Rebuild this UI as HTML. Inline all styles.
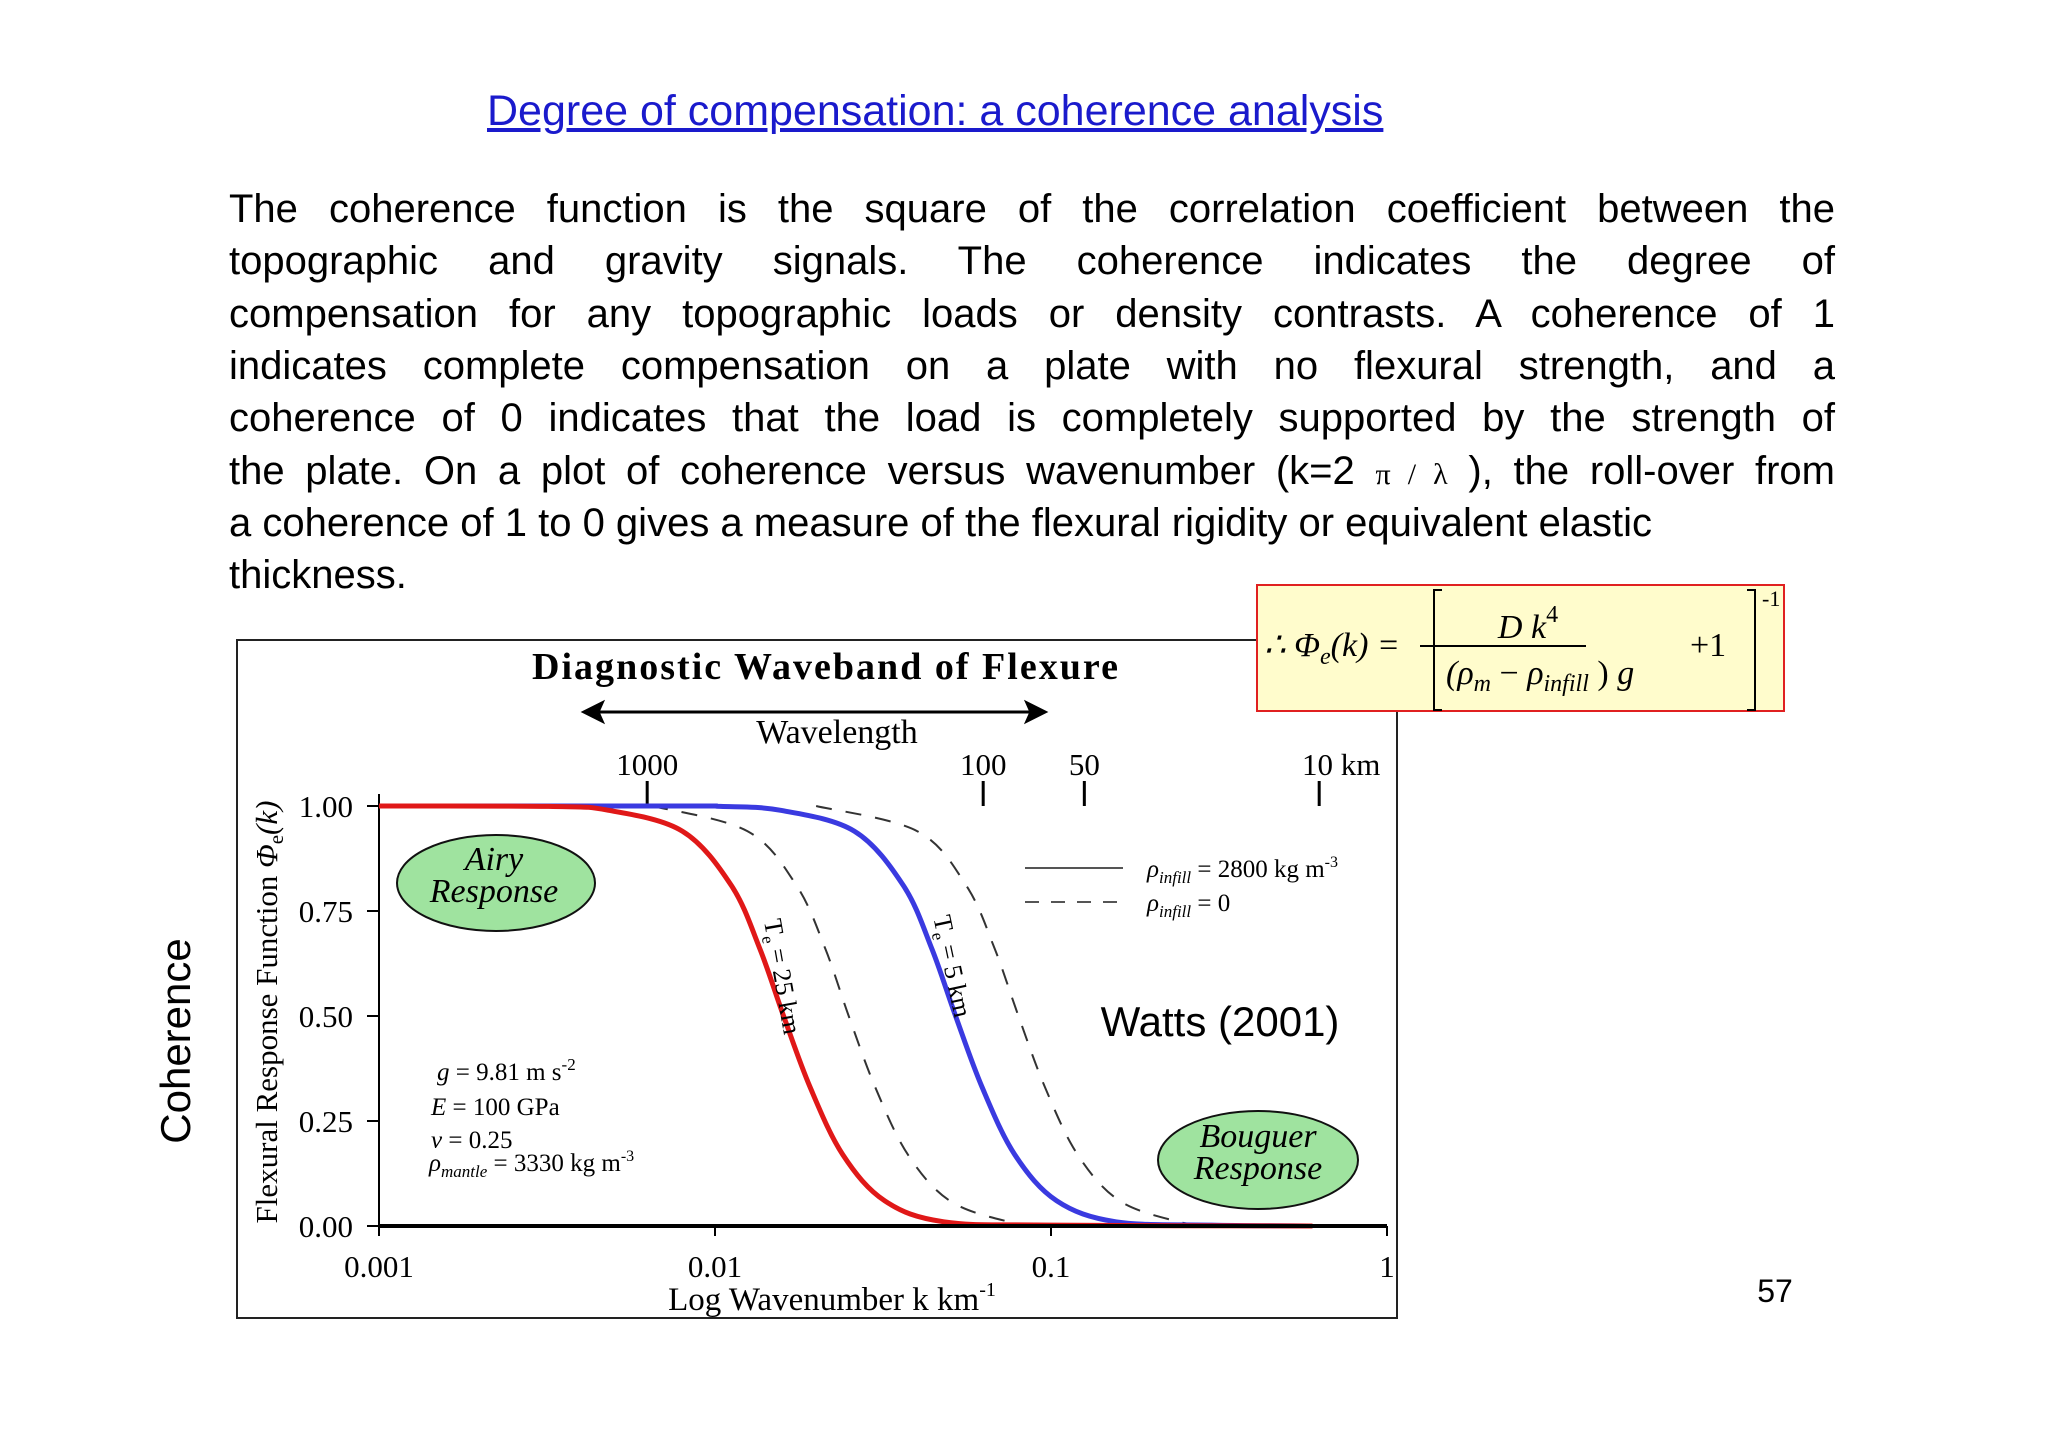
<!DOCTYPE html>
<html><head><meta charset="utf-8">
<style>
body{margin:0;width:2048px;height:1448px;background:#fff;position:relative;overflow:hidden;font-family:"Liberation Sans",sans-serif;}
.ln{position:absolute;left:229px;width:1606px;font-size:40px;height:52px;line-height:52px;white-space:nowrap;color:#000}
.j{text-align:justify;text-align-last:justify}
</style></head><body>
<div style="position:absolute;left:487px;top:87px;font-size:43px;color:#1a1acc;text-decoration:underline;white-space:nowrap">Degree of compensation: a coherence analysis</div>
<div>
<div class="ln j" style="top:183px">The coherence function is the square of the correlation coefficient between the</div>
<div class="ln j" style="top:235px">topographic and gravity signals. The coherence indicates the degree of</div>
<div class="ln j" style="top:288px">compensation for any topographic loads or density contrasts. A coherence of 1</div>
<div class="ln j" style="top:340px">indicates complete compensation on a plate with no flexural strength, and a</div>
<div class="ln j" style="top:392px">coherence of 0 indicates that the load is completely supported by the strength of</div>
<div class="ln j" style="top:445px">the plate. On a plot of coherence versus wavenumber (k=2 <span style="font-family:'Liberation Serif',serif;font-size:30px">π / λ</span> ), the roll-over from</div>
<div class="ln" style="top:497px">a coherence of 1 to 0 gives a measure of the flexural rigidity or equivalent elastic</div>
<div class="ln" style="top:549px">thickness.</div>
</div>
<svg width="2048" height="1448" style="position:absolute;left:0;top:0" xmlns="http://www.w3.org/2000/svg">
<rect x="237" y="640" width="1160" height="678" fill="#fff" stroke="#222" stroke-width="2"/>
<text transform="translate(190,1041) rotate(-90)" text-anchor="middle" font-family="Liberation Sans" font-size="42">Coherence</text>
<text x="1775" y="1302" text-anchor="middle" font-family="Liberation Sans" font-size="32">57</text>
<g font-family="Liberation Serif, serif">
<text x="825" y="679" text-anchor="middle" font-size="38" font-weight="bold" textLength="586">Diagnostic Waveband of Flexure</text>
<g stroke="#000" stroke-width="3">
<line x1="592" y1="712" x2="1037" y2="712"/>
<polygon points="584,712 602,703 598,712 602,721" fill="#000"/>
<polygon points="1045,712 1027,703 1031,712 1027,721" fill="#000"/>
</g>
<text x="837" y="743" text-anchor="middle" font-size="34">Wavelength</text>
<g id="topticks"></g>
<g id="plot"></g>
<text transform="translate(277,1012) rotate(-90)" text-anchor="middle" font-size="31">Flexural Response Function <tspan font-style="italic">Φ</tspan><tspan font-size="21" dy="6">e</tspan><tspan dy="-6" font-style="italic">(k)</tspan></text>
<text x="832" y="1310" text-anchor="middle" font-size="33">Log Wavenumber k km<tspan font-size="20" dy="-14">-1</tspan></text>
<ellipse cx="496" cy="883" rx="99" ry="48" fill="#9fe39f" stroke="#111" stroke-width="2"/>
<text x="494" y="870" text-anchor="middle" font-size="34" font-style="italic">Airy</text>
<text x="494" y="902" text-anchor="middle" font-size="34" font-style="italic">Response</text>
<ellipse cx="1258" cy="1160" rx="100" ry="49" fill="#9fe39f" stroke="#111" stroke-width="2"/>
<text x="1258" y="1147" text-anchor="middle" font-size="34" font-style="italic">Bouguer</text>
<text x="1258" y="1179" text-anchor="middle" font-size="34" font-style="italic">Response</text>
<g>
<line x1="1025" y1="868" x2="1123" y2="868" stroke="#555" stroke-width="2"/>
<line x1="1025" y1="902" x2="1123" y2="902" stroke="#555" stroke-width="2" stroke-dasharray="14,12"/>
<text x="1147" y="877" font-size="25"><tspan font-style="italic">ρ</tspan><tspan font-size="17" dy="6" font-style="italic">infill</tspan><tspan dy="-6"> = 2800 kg m</tspan><tspan font-size="16" dy="-10">-3</tspan></text>
<text x="1147" y="911" font-size="25"><tspan font-style="italic">ρ</tspan><tspan font-size="17" dy="6" font-style="italic">infill</tspan><tspan dy="-6"> = 0</tspan></text>
</g>
<g font-size="25">
<text x="437" y="1080"><tspan font-style="italic">g</tspan> = 9.81 m s<tspan font-size="17" dy="-10">-2</tspan></text>
<text x="431" y="1115"><tspan font-style="italic">E</tspan> = 100 GPa</text>
<text x="431" y="1148"><tspan font-style="italic">ν</tspan> = 0.25</text>
<text x="429" y="1171"><tspan font-style="italic">ρ</tspan><tspan font-size="17" dy="6" font-style="italic">mantle</tspan><tspan dy="-6"> = 3330 kg m</tspan><tspan font-size="16" dy="-10">-3</tspan></text>
</g>
<text transform="translate(774,978) rotate(80)" text-anchor="middle" font-size="26">T<tspan font-size="17" dy="5">e</tspan><tspan dy="-5"> = 25 km</tspan></text>
<text transform="translate(944,968) rotate(78)" text-anchor="middle" font-size="26">T<tspan font-size="17" dy="5">e</tspan><tspan dy="-5"> = 5 km</tspan></text>
</g>
<text x="1220" y="1036" text-anchor="middle" font-family="Liberation Sans" font-size="42">Watts (2001)</text>
<g font-family="Liberation Serif, serif">
<rect x="1257" y="585" width="527" height="126" fill="#fffccc" stroke="#e02020" stroke-width="2"/>
<text x="1264" y="656" font-size="34" font-style="italic">∴ Φ<tspan font-size="24" dy="8">e</tspan><tspan dy="-8">(k) =</tspan></text>
<line x1="1420" y1="646" x2="1586" y2="646" stroke="#000" stroke-width="2"/>
<text x="1528" y="638" text-anchor="middle" font-size="34" font-style="italic">D k<tspan font-size="24" dy="-16" font-style="normal">4</tspan></text>
<text x="1446" y="684" font-size="34" font-style="italic">(ρ<tspan font-size="24" dy="7">m</tspan><tspan dy="-7" font-style="normal"> − </tspan>ρ<tspan font-size="24" dy="7">infill</tspan><tspan dy="-7" font-style="normal"> ) </tspan>g</text>
<text x="1690" y="656" font-size="34">+1</text>
<path d="M1442,590 h-8 v120 h8 M1747,590 h8 v120 h-8" fill="none" stroke="#000" stroke-width="2"/>
<text x="1762" y="606" font-size="22">-1</text>
</g>
</svg>
<script>
const xTickVals=[0.001,0.01,0.1,1];
const xTickLabels=["0.001","0.01","0.1","1"];
const yTickVals=[0,0.25,0.5,0.75,1];
const yTickLabels=["0.00","0.25","0.50","0.75","1.00"];
const wlVals=[1000,100,50,10];
const wlLabels=["1000","100","50","10 km"];
const redK=[0.001,0.0032,0.0048,0.008,0.0112,0.0136,0.016,0.0192,0.024,0.032,0.048,0.1,0.6];
const redPhi=[1,0.999,0.99,0.94,0.81,0.66,0.5,0.33,0.17,0.06,0.01,0.002,0];
const blueK=[0.001,0.008,0.0104,0.0156,0.026,0.0364,0.0442,0.052,0.0624,0.078,0.104,0.156,0.3,0.6];
const bluePhi=[1,1,0.999,0.99,0.94,0.81,0.66,0.5,0.33,0.17,0.06,0.01,0.002,0];
const dash25K=[0.0065,0.0125,0.0175,0.0213,0.025,0.03,0.0375,0.05,0.075,0.1];
const dash25Phi=[1,0.94,0.81,0.66,0.5,0.33,0.17,0.06,0.01,0];
const dash5K=[0.02,0.04,0.056,0.068,0.08,0.096,0.12,0.16,0.24,0.3];
const dash5Phi=[1,0.94,0.81,0.66,0.5,0.33,0.17,0.06,0.01,0];
const NS="http://www.w3.org/2000/svg";
const X0=379,X1=1387,Y0=1226,Y1=806;
function xs(k){return X0+(Math.log10(k)+3)/3*(X1-X0);}
function ys(v){return Y0-v*(Y0-Y1);}
function mk(tag,attrs,parent){const e=document.createElementNS(NS,tag);for(const a in attrs)e.setAttribute(a,attrs[a]);parent.appendChild(e);return e;}
const plotG=document.getElementById('plot');
const topG=document.getElementById('topticks');
function path(K,P){const pts=K.map((k,i)=>[xs(k),ys(P[i])]);let d="M"+pts[0][0]+","+pts[0][1];
for(let i=0;i<pts.length-1;i++){const p0=pts[Math.max(0,i-1)],p1=pts[i],p2=pts[i+1],p3=pts[Math.min(pts.length-1,i+2)];
d+=" C"+(p1[0]+(p2[0]-p0[0])/6)+","+(p1[1]+(p2[1]-p0[1])/6)+" "+(p2[0]-(p3[0]-p1[0])/6)+","+(p2[1]-(p3[1]-p1[1])/6)+" "+p2[0]+","+p2[1];}return d;}
const ax=mk('line',{x1:X0,y1:Y1-12,x2:X0,y2:Y0,stroke:'#000','stroke-width':2},plotG);


yTickVals.forEach((v,i)=>{mk('line',{x1:X0-12,y1:ys(v),x2:X0,y2:ys(v),stroke:'#000','stroke-width':2},plotG);
const t=mk('text',{x:353,y:ys(v)+11,'text-anchor':'end','font-size':31},plotG);t.textContent=yTickLabels[i];

});
xTickVals.forEach((v,i)=>{mk('line',{x1:xs(v),y1:Y0,x2:xs(v),y2:Y0+10,stroke:'#000','stroke-width':2},plotG);
const t=mk('text',{x:xs(v),y:1277,'text-anchor':'middle','font-size':31},plotG);t.textContent=xTickLabels[i];

});
wlVals.forEach((w,i)=>{const x=xs(2*Math.PI/w);mk('line',{x1:x,y1:781,x2:x,y2:806,stroke:'#000','stroke-width':3},topG);
const t=mk('text',{x:i==3?x+22:x,y:775,'text-anchor':'middle','font-size':31},topG);t.textContent=wlLabels[i];

});
const s1=mk('path',{d:path(dash25K,dash25Phi),fill:'none',stroke:'#333','stroke-width':2,'stroke-dasharray':'16,14'},plotG);


const s2=mk('path',{d:path(dash5K,dash5Phi),fill:'none',stroke:'#333','stroke-width':2,'stroke-dasharray':'16,14'},plotG);


const s3=mk('path',{d:path(blueK,bluePhi),fill:'none',stroke:'#3a3ae0','stroke-width':5},plotG);


const s4=mk('path',{d:path(redK,redPhi),fill:'none',stroke:'#e01818','stroke-width':5},plotG);


const bx=mk('line',{x1:X0,y1:Y0,x2:X1,y2:Y0,stroke:'#000','stroke-width':4},plotG);


</script>
</body></html>
